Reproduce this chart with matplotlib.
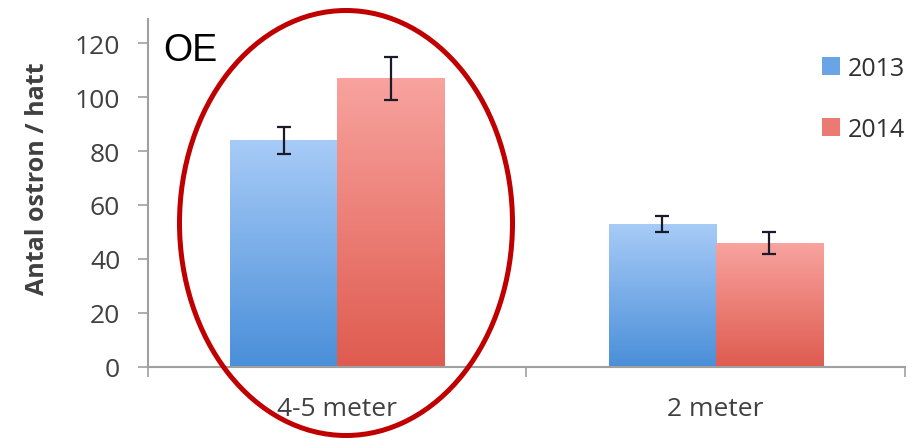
import numpy as np
import matplotlib
matplotlib.use('Agg')
import matplotlib.pyplot as plt
from matplotlib.patches import Ellipse, Patch

# data
categories = ['4-5 meter', '2 meter']
years = ['2013', '2014']
values_2013 = [84, 53]
values_2014 = [107, 46]
err_2013 = [5, 3]
err_2014 = [8, 4]

plt.rcParams['font.family'] = ['Open Sans', 'DejaVu Sans']


def gradient_bar(ax, bar, top_color, bottom_color):
    # fill a bar with a vertical colour gradient, clipped to the bar shape
    x0, y0 = bar.get_x(), bar.get_y()
    w, h = bar.get_width(), bar.get_height()
    top = np.array(matplotlib.colors.to_rgb(top_color))
    bot = np.array(matplotlib.colors.to_rgb(bottom_color))
    t = np.linspace(0, 1, 100)[:, None]
    img = (bot * (1 - t) + top * t)[:, None, :]
    im = ax.imshow(img, extent=[x0, x0 + w, y0, y0 + h], origin='lower',
                   aspect='auto', zorder=2)
    im.set_clip_path(bar)
    bar.set_facecolor('none')


def main():
    fig = plt.figure(figsize=(9.13, 4.39), dpi=100)
    ax = fig.add_axes([0.1621, 0.1624, 0.8291, 0.792])

    x = np.arange(len(categories))
    w = 0.283
    bars1 = ax.bar(x - w / 2, values_2013, w, color='#7fb0ea',
                   linewidth=0, zorder=2)
    bars2 = ax.bar(x + w / 2, values_2014, w, color='#ef7f76',
                   linewidth=0, zorder=2)
    for b in bars1:
        gradient_bar(ax, b, '#a7cbf7', '#4a8fd9')
    for b in bars2:
        gradient_bar(ax, b, '#f8a39e', '#df5b4f')

    ax.errorbar(x - w / 2, values_2013, yerr=err_2013, fmt='none',
                ecolor='#1a1a2a', elinewidth=1.6, capsize=5, capthick=1.6, zorder=3)
    ax.errorbar(x + w / 2, values_2014, yerr=err_2014, fmt='none',
                ecolor='#1a1a2a', elinewidth=1.6, capsize=5, capthick=1.6, zorder=3)

    ax.set_xlim(-0.5, 1.5)
    ax.set_ylim(0, 129)
    ax.set_yticks([0, 20, 40, 60, 80, 100, 120])
    ax.set_xticks(x)
    ax.set_xticklabels(categories)
    ax.set_xticks([-0.5, 0.5, 1.5], minor=True)
    ax.tick_params(axis='x', which='major', length=0, pad=21,
                   labelsize=19, labelcolor='#404040')
    ax.tick_params(axis='x', which='minor', length=7, width=1.2, color='#a0a0a0')
    ax.tick_params(axis='y', length=7, width=1.2, color='#a0a0a0',
                   labelsize=19, labelcolor='#404040', pad=13)

    for s in ['top', 'right']:
        ax.spines[s].set_visible(False)
    for s in ['left', 'bottom']:
        ax.spines[s].set_color('#a0a0a0')
        ax.spines[s].set_linewidth(1.5)

    ax.set_ylabel('Antal ostron / hatt', fontsize=18, fontweight='bold',
                  color='#404040')
    ax.yaxis.set_label_coords(-0.13, 0.543)

    handles = [Patch(facecolor='#6aa3e6', label=years[0]),
               Patch(facecolor='#ea7a72', label=years[1])]
    ax.legend(handles=handles, loc='upper left', bbox_to_anchor=(0.874, 0.93),
              frameon=False, borderpad=0, fontsize=18, handlelength=0.72,
              handleheight=0.72, handletextpad=0.3, labelspacing=1.45,
              labelcolor='#303030')

    fig.text(0.1785, 0.862, 'OE', fontsize=27, color='black',
             family=['Liberation Sans', 'DejaVu Sans'])

    # red ring drawn around the first group
    ring = Ellipse((346 / 913, 1 - 224 / 439), 333 / 913, 425 / 439,
                   transform=fig.transFigure, fill=False, edgecolor='#c00000',
                   linewidth=3.6, zorder=10)
    fig.patches.append(ring)

    fig.savefig('out.png', dpi=100, facecolor='white')


if __name__ == '__main__':
    main()
